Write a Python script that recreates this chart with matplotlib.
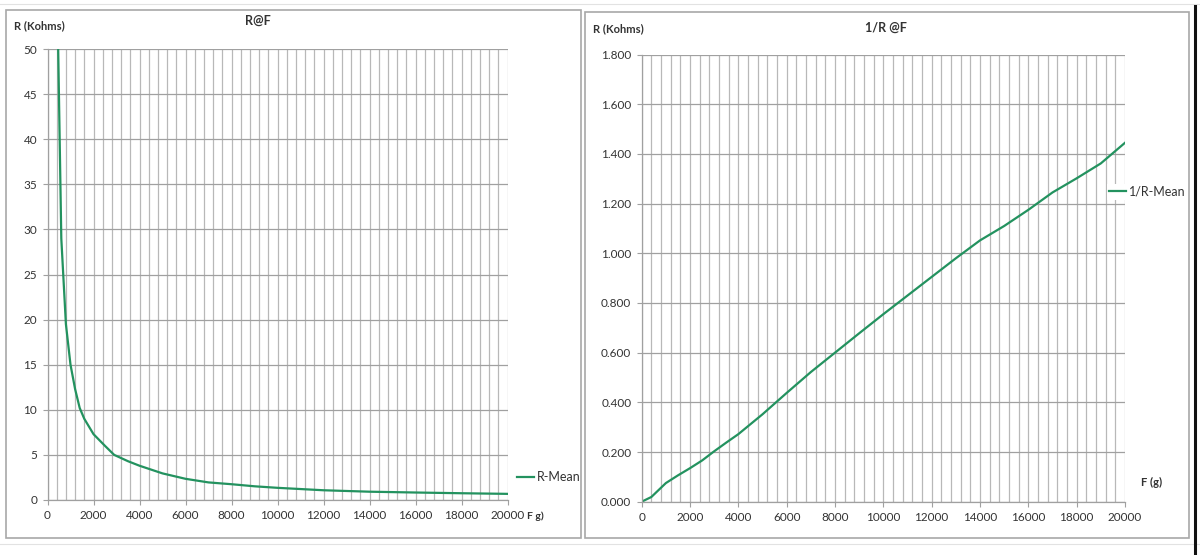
import matplotlib
matplotlib.use("Agg")
import matplotlib.pyplot as plt
from matplotlib.ticker import MultipleLocator, FuncFormatter
from matplotlib.patches import Rectangle
from matplotlib.lines import Line2D

# Donnees
f_r = [400, 600, 800, 1000, 1200, 1400, 1600, 2000, 2500, 2900, 3500, 4000,
       5000, 6000, 7000, 8000, 9000, 10000, 12000, 14000, 16000, 18000, 20000]
r_mean = [60, 29, 19.5, 15, 12.3, 10.2, 9.0, 7.3, 6.0, 5.0, 4.3, 3.8,
          2.95, 2.35, 1.95, 1.75, 1.52, 1.35, 1.08, 0.92, 0.83, 0.75, 0.68]

f_inv = [0, 400, 1000, 1500, 2000, 2500, 3000, 3500, 4000, 5000, 6000, 7000,
         8000, 9000, 10000, 11000, 12000, 13000, 14000, 15000, 16000, 17000,
         18000, 19000, 20000]
inv_r_mean = [0.0, 0.019, 0.075, 0.106, 0.135, 0.166, 0.203, 0.238, 0.272,
              0.352, 0.438, 0.522, 0.600, 0.678, 0.755, 0.830, 0.905, 0.980,
              1.052, 1.110, 1.175, 1.245, 1.302, 1.362, 1.445]

GREEN = "#23925f"
HGRID = "#a0a0a0"
VGRID = "#b8b8b8"

plt.rcParams["font.family"] = ["Lato", "DejaVu Sans"]

W, H = 1200, 555
fig = plt.figure(figsize=(W / 100, H / 100), dpi=100)


def fx(px):
    return px / W


def fy(py):
    return 1 - py / H


# Fond type tableur + cadres des graphiques
for yy in (4, 544):
    fig.add_artist(Line2D([0, 1], [fy(yy), fy(yy)], color="#e2e2e2", lw=0.8))
fig.add_artist(Rectangle((fx(6), fy(538)), fx(581) - fx(6), fy(10) - fy(538),
                         fill=False, ec="#a8a8a8", lw=1.2))
fig.add_artist(Rectangle((fx(585), fy(538)), fx(1189) - fx(585), fy(12) - fy(538),
                         fill=False, ec="#a8a8a8", lw=1.2))
fig.add_artist(Line2D([fx(1195), fx(1195)], [fy(6), fy(555)], color="#111111", lw=2.2))


def style_axes(ax):
    for s in ("top", "right"):
        ax.spines[s].set_visible(False)
    for s in ("left", "bottom"):
        ax.spines[s].set_color(HGRID)
        ax.spines[s].set_linewidth(0.9)
    ax.set_xlim(0, 20000)
    ax.xaxis.set_major_locator(MultipleLocator(2000))
    ax.xaxis.set_minor_locator(MultipleLocator(400))
    ax.grid(True, which="minor", axis="x", color=VGRID, lw=0.9)
    ax.grid(True, which="major", axis="x", color=VGRID, lw=0.9)
    ax.grid(True, which="major", axis="y", color=HGRID, lw=0.9)
    ax.tick_params(which="major", length=3.5, color=HGRID, labelsize=8.5,
                   labelcolor="#333333", pad=4)
    ax.tick_params(which="minor", length=0)
    ax.set_axisbelow(True)


# Graphique gauche : R@F
ax1 = fig.add_axes([fx(47.5), fy(500), fx(460), 451 / H])
style_axes(ax1)
ax1.plot(f_r, r_mean, color=GREEN, lw=1.6, label="R-Mean")
ax1.set_ylim(0, 50)
ax1.yaxis.set_major_locator(MultipleLocator(5))
ax1.legend(loc="center left", bbox_to_anchor=(1.02, 0.051), frameon=False,
           handlelength=1.4, handletextpad=0.2, borderpad=0, borderaxespad=0,
           fontsize=9, labelcolor="#333333")

# Graphique droit : 1/R @F
ax2 = fig.add_axes([fx(641.7), fy(501.7), fx(483.3), 447.1 / H])
style_axes(ax2)
ax2.plot(f_inv, inv_r_mean, color=GREEN, lw=1.6, label="1/R-Mean")
ax2.set_ylim(0, 1.8)
ax2.yaxis.set_major_locator(MultipleLocator(0.2))
ax2.yaxis.set_major_formatter(FuncFormatter(lambda v, p: f"{v:.3f}"))
leg = ax2.legend(loc="center left", bbox_to_anchor=(0.962, 0.693), frameon=True,
                 handlelength=1.4, handletextpad=0.2, borderpad=0.15,
                 borderaxespad=0, fontsize=9, labelcolor="#333333",
                 fancybox=False)
leg.get_frame().set_facecolor("white")
leg.get_frame().set_edgecolor("none")
leg.get_frame().set_alpha(1)

# Textes
bold = dict(fontweight="bold", color="#333333")
fig.text(fx(258), fy(21), "R@F", ha="center", va="center", fontsize=9, **bold)
fig.text(fx(886), fy(28), "1/R @F", ha="center", va="center", fontsize=9, **bold)
fig.text(fx(14), fy(26), "R (Kohms)", ha="left", va="center", fontsize=8, **bold)
fig.text(fx(593), fy(29), "R (Kohms)", ha="left", va="center", fontsize=8, **bold)
fig.text(fx(527), fy(516), "F g)", ha="left", va="center", fontsize=7.5, **bold)
fig.text(fx(1152), fy(482), "F (g)", ha="center", va="center", fontsize=8, **bold)

fig.savefig("out.png", dpi=100, facecolor="white")
